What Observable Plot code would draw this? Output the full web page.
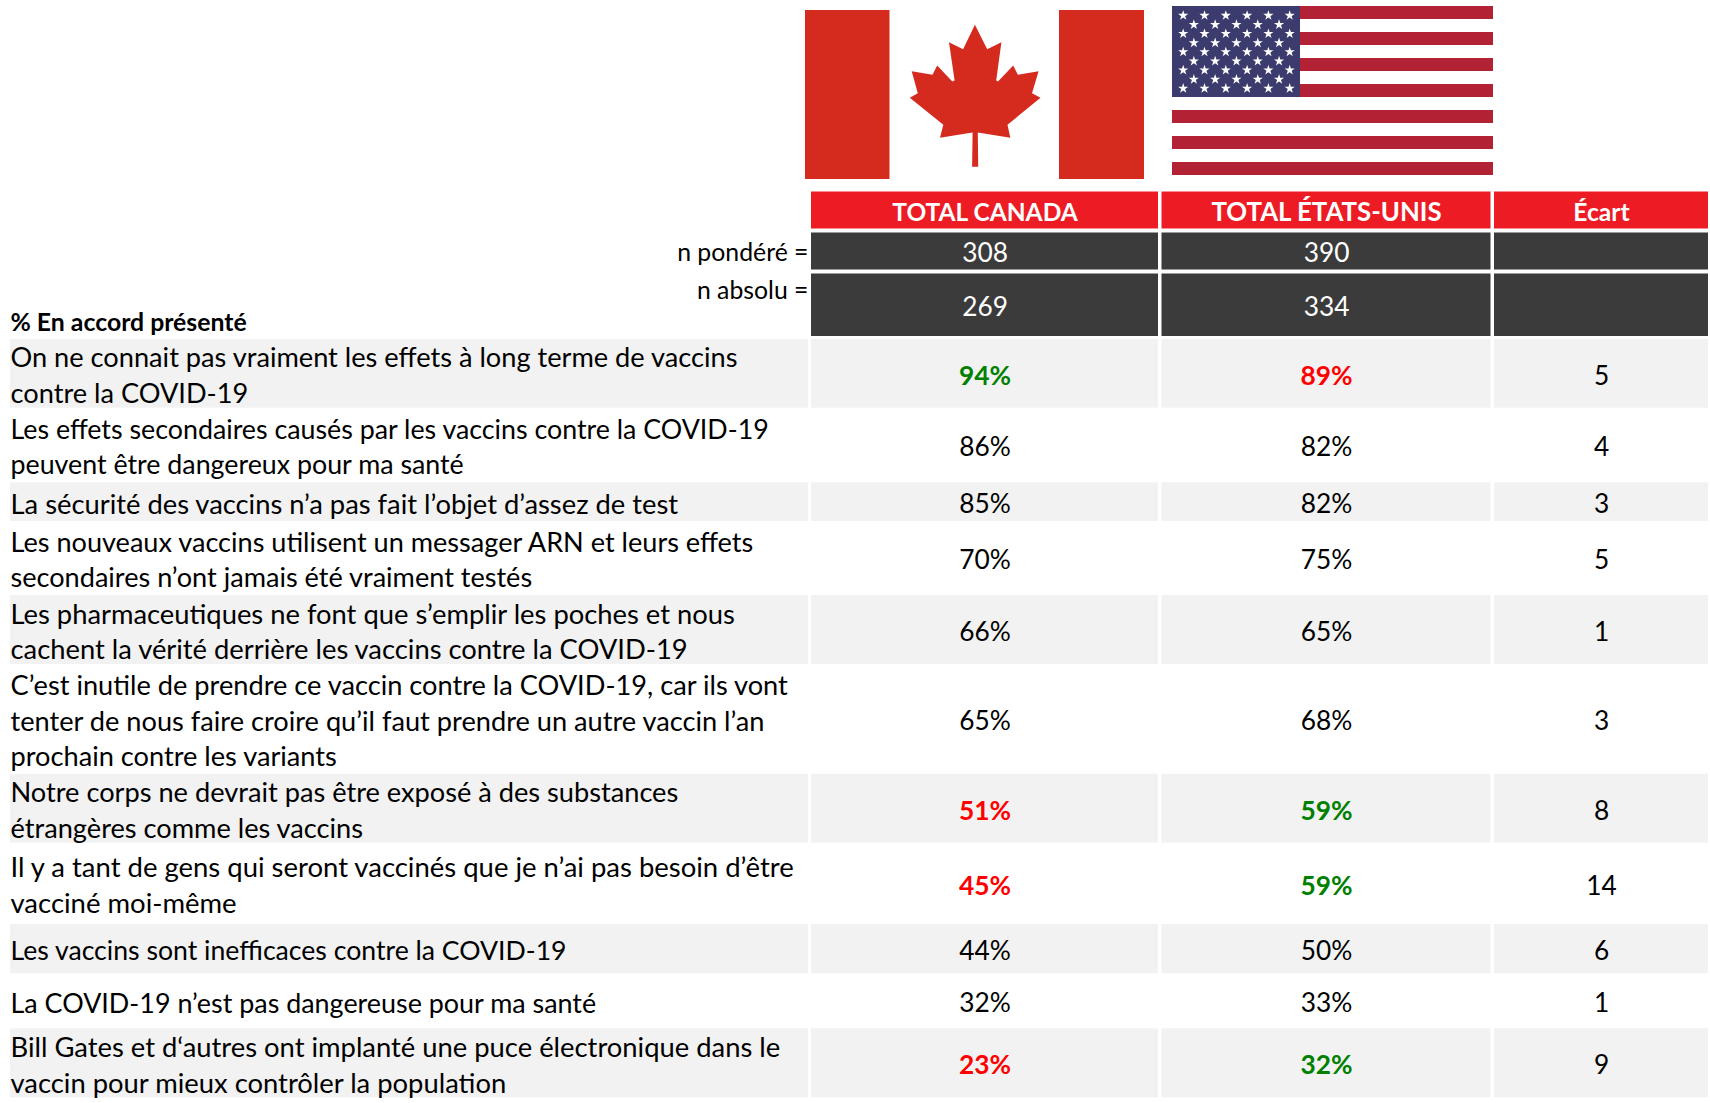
<!DOCTYPE html>
<html lang="fr">
<head>
<meta charset="utf-8">
<style>
html,body{margin:0;padding:0;background:#fff;overflow:hidden}
svg{display:block}
</style>
<script src="https://cdn.jsdelivr.net/npm/d3@7"></script>
<script src="https://cdn.jsdelivr.net/npm/@observablehq/plot@0.6"></script>
</head>
<body>
<div id="chart"></div>
<script>
// ---- DATA ----
const columnTitles = ["TOTAL CANADA", "TOTAL ÉTATS-UNIS", "Écart"];
const weightedN = [308, 390, null];
const absoluteN = [269, 334, null];
const statements = [
  "On ne connait pas vraiment les effets à long terme de vaccins\ncontre la COVID-19",
  "Les effets secondaires causés par les vaccins contre la COVID-19\npeuvent être dangereux pour ma santé",
  "La sécurité des vaccins n’a pas fait l’objet d’assez de test",
  "Les nouveaux vaccins utilisent un messager ARN et leurs effets\nsecondaires n’ont jamais été vraiment testés",
  "Les pharmaceutiques ne font que s’emplir les poches et nous\ncachent la vérité derrière les vaccins contre la COVID-19",
  "C’est inutile de prendre ce vaccin contre la COVID-19, car ils vont\ntenter de nous faire croire qu’il faut prendre un autre vaccin l’an\nprochain contre les variants",
  "Notre corps ne devrait pas être exposé à des substances\nétrangères comme les vaccins",
  "Il y a tant de gens qui seront vaccinés que je n’ai pas besoin d’être\nvacciné moi-même",
  "Les vaccins sont inefficaces contre la COVID-19",
  "La COVID-19 n’est pas dangereuse pour ma santé",
  "Bill Gates et d‘autres ont implanté une puce électronique dans le\nvaccin pour mieux contrôler la population"
];
const canadaValues = [94, 86, 85, 70, 66, 65, 51, 45, 44, 32, 23];
const usaValues    = [89, 82, 82, 75, 65, 68, 59, 59, 50, 33, 32];
const gapValues    = [5, 4, 3, 5, 1, 3, 8, 14, 6, 1, 9];
// significance marks: "+" higher, "-" lower, "" none
const canadaSignif = ["+", "", "", "", "", "", "-", "-", "", "", "-"];
const usaSignif    = ["-", "", "", "", "", "", "+", "+", "", "", "+"];

// ---- LAYOUT (separate from the values) ----
const W = 1710, H = 1103;
const labelCol = {x1: 10, x2: 808};
const valueCols = [{x1: 811, x2: 1158}, {x1: 1161.5, x2: 1490.5}, {x1: 1494, x2: 1708}];
const headerBand = {y1: 191.5, y2: 228.5};
const weightedBand = {y1: 232.5, y2: 269.5};
const absoluteBand = {y1: 273.5, y2: 336};
const rowEdges = [[339,407.7],[407.7,482.3],[482.3,521],[521,595],[595,664],[664,773.7],[773.7,842.7],[842.7,924],[924,973.3],[973.3,1028.3],[1028.3,1097.3]];

const canadaFlag = {x1: 805, x2: 1144, y1: 10, y2: 179, bandL: 889.5, bandR: 1059};
const leafX = [974.4,986.7,1000.9,995.7,997.5,1012.7,1017.4,1038.1,1031.5,1040,1007,1009.8,977.3,977.7,971.6,972.1,939.5,942.8,909.3,917.3,911.2,932,936.7,951.8,954.1,948.5,962.6];
const leafY = [24.3,48.7,41.7,80,81,65,74.3,70.7,92.7,97.3,124.3,137.3,132,166.3,166.3,132,137.3,124.3,97.3,92.7,70.7,74.3,65,81,80,41.7,48.7];
const usFlag = {x1: 1172, x2: 1493, y1: 6, stripe: 13, stripes: 13, cantonX2: 1300, cantonRows: 7};
const star = {x0: 1182.7, dx: 21.3, y0: 15, dy: 9.12, rows: 9};

const C = {red: "#ed1c24", dark: "#3b3b3b", grey: "#f2f2f2", up: "#008000", down: "#ff0000",
           ca: "#d52b1e", usR: "#b22234", usB: "#3c3b6e"};
const font = "Lato, sans-serif";
const FS = 26.3, statementLeading = 35.4;
const statementSizes = [27.2, 26.8, 27.35, 27.1, 27.35, 27.2, 27.2, 27.47, 26.63, 26.9, 27.39];
const headerSizes = [24.5, 25.8, 24.6];

// ---- Derived tables ----
const mid = b => (b.y1 + b.y2) / 2;
const cx = c => (c.x1 + c.x2) / 2;
const rows = statements.map((s, i) => ({
  s, i, y1: rowEdges[i][0], y2: rowEdges[i][1], y: (rowEdges[i][0] + rowEdges[i][1]) / 2, size: statementSizes[i]
}));
const greyCells = rows.filter(r => r.i % 2 === 0).flatMap(r =>
  [labelCol, ...valueCols].map(c => ({x1: c.x1, x2: c.x2, y1: r.y1, y2: r.y2})));
const headerCells = valueCols.map((c, i) => ({...c, ...headerBand, t: columnTitles[i], x: cx(c), y: mid(headerBand), size: headerSizes[i]}));
const darkCells = valueCols.flatMap((c, i) => [
  {...c, ...weightedBand, t: weightedN[i], x: cx(c), y: mid(weightedBand)},
  {...c, ...absoluteBand, t: absoluteN[i], x: cx(c), y: mid(absoluteBand)}]);
const valueCells = rows.flatMap(r => [
  {x: cx(valueCols[0]), y: r.y, t: canadaValues[r.i] + "%", sig: canadaSignif[r.i]},
  {x: cx(valueCols[1]), y: r.y, t: usaValues[r.i] + "%", sig: usaSignif[r.i]},
  {x: cx(valueCols[2]), y: r.y, t: String(gapValues[r.i]), sig: ""}]);
const leaf = leafX.map((x, i) => ({x, y: leafY[i]}));
const stripes = d3.range(0, usFlag.stripes, 2).map(i => ({
  x1: i < usFlag.cantonRows ? usFlag.cantonX2 : usFlag.x1, x2: usFlag.x2,
  y1: usFlag.y1 + i * usFlag.stripe, y2: usFlag.y1 + (i + 1) * usFlag.stripe}));
const canton = [{x1: usFlag.x1, x2: usFlag.cantonX2, y1: usFlag.y1, y2: usFlag.y1 + usFlag.cantonRows * usFlag.stripe}];
const stars = d3.range(star.rows).flatMap(r =>
  d3.range(r % 2 ? 5 : 6).map(k => ({x: star.x0 + (k + (r % 2 ? .5 : 0)) * star.dx, y: star.y0 + r * star.dy})));
const sideLabels = [
  {t: "n pondéré =", x: labelCol.x2, y: 252.5},
  {t: "n absolu =", x: labelCol.x2, y: 290.5}];

const rect = (data, fill) => Plot.rect(data, {x1: "x1", x2: "x2", y1: "y1", y2: "y2", fill, stroke: "none"});
const txt = (data, o) => Plot.text(data, {x: "x", y: "y", text: "t", fontFamily: font, fontSize: FS, fill: "#000", ...o});

const plot = Plot.plot({
  width: W, height: H,
  marginTop: 0, marginRight: 0, marginBottom: 0, marginLeft: 0,
  x: {type: "linear", domain: [0, W], range: [0, W], axis: null},
  y: {type: "linear", domain: [0, H], range: [0, H], axis: null},
  style: {fontFamily: font, background: "#fff"},
  marks: [
    // Canada flag
    rect([{x1: canadaFlag.x1, x2: canadaFlag.bandL, y1: canadaFlag.y1, y2: canadaFlag.y2},
          {x1: canadaFlag.bandR, x2: canadaFlag.x2, y1: canadaFlag.y1, y2: canadaFlag.y2}], C.ca),
    Plot.line(leaf, {x: "x", y: "y", fill: C.ca, stroke: "none", curve: "linear"}),
    // US flag
    rect(stripes, C.usR),
    rect(canton, C.usB),
    Plot.dot(stars, {x: "x", y: "y", symbol: "star", r: 3.2, fill: "#fff", stroke: "none"}),
    // table
    rect(headerCells, C.red),
    rect(darkCells, C.dark),
    rect(greyCells, C.grey),
    txt(headerCells, {fill: "#fff", fontWeight: 700, fontSize: "size", dy: 2.5}),
    txt(darkCells.filter(d => d.t != null), {fill: "#fff", dy: 2}),
    txt(sideLabels, {textAnchor: "end", fontSize: 24.8}),
    txt([{t: "% En accord présenté", x: labelCol.x1, y: 323}], {textAnchor: "start", fontWeight: 700, fontSize: 24.8}),
    Plot.text(rows, {x: () => labelCol.x1, y: "y", text: "s", textAnchor: "start", lineHeight: statementLeading / 27.2,
      fontFamily: font, fontSize: "size", fill: "#000"}),
    txt(valueCells.filter(d => d.sig === ""), {dy: 2.5}),
    txt(valueCells.filter(d => d.sig === "+"), {fill: C.up, fontWeight: 700, dy: 2.5}),
    txt(valueCells.filter(d => d.sig === "-"), {fill: C.down, fontWeight: 700, dy: 2.5})
  ]
});
document.getElementById("chart").appendChild(plot);
</script>
</body>
</html>
